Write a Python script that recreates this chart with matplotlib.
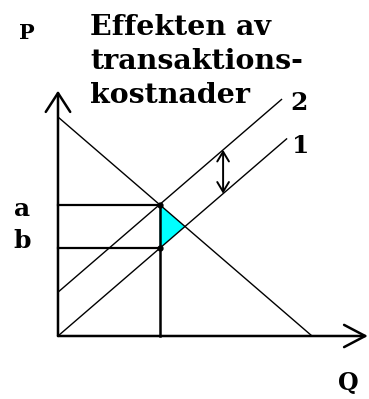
import matplotlib
matplotlib.use('Agg')
import matplotlib.pyplot as plt
from matplotlib.patches import Polygon

# efterfrågan och utbud (1 = utan, 2 = med transaktionskostnader)
demand_q = [0, 10]
demand_p = [10, 0]
supply1_q = [0, 9]
supply1_p = [0, 9]
supply2_q = [0, 8.8]
supply2_p = [2, 10.8]

# jämvikt med kostnader: kvantitet, pris a och pris b
eq_q = 4
price_a = 6
price_b = 4
# jämvikt utan kostnader
eq1_q = 5
eq1_p = 5
# kostnadspil mellan kurvorna
cost_q = 6.5
cost_p = [6.5, 8.5]

axis_q_max = 12.2
axis_p_max = 11.2

title_lines = ['Effekten av', 'transaktions-', 'kostnader']

fig = plt.figure(figsize=(3.69, 3.99), dpi=100)
ax = fig.add_axes([0, 0, 1, 1])
ax.set_xlim(-2.283, 12.244)
ax.set_ylim(-2.877, 15.342)
ax.axis('off')

serif = 'DejaVu Serif'

# axlar med öppna pilar
ax.annotate('', xy=(0, axis_p_max), xytext=(0, 0),
            arrowprops=dict(arrowstyle='->,head_length=0.85,head_width=0.55',
                            lw=1.8, color='black', shrinkA=0, shrinkB=0,
                            mutation_scale=16))
ax.annotate('', xy=(axis_q_max, 0), xytext=(0, 0),
            arrowprops=dict(arrowstyle='->,head_length=0.95,head_width=0.5',
                            lw=1.8, color='black', shrinkA=0, shrinkB=0,
                            mutation_scale=16))

# kurvorna
ax.plot(demand_q, demand_p, color='black', lw=1.0)
ax.plot(supply1_q, supply1_p, color='black', lw=1.0)
ax.plot(supply2_q, supply2_p, color='black', lw=1.0)

# välfärdsförlust
tri = Polygon([(eq_q, price_a), (eq_q, price_b), (eq1_q, eq1_p)],
              closed=True, facecolor='#00ffff', edgecolor='none', zorder=1)
ax.add_patch(tri)

# hjälplinjer
ax.plot([0, eq_q], [price_a, price_a], color='black', lw=1.6)
ax.plot([0, eq_q], [price_b, price_b], color='black', lw=1.6)
ax.plot([eq_q, eq_q], [0, price_a], color='black', lw=1.8)
ax.plot([eq_q, eq_q], [price_a, price_b], 'o', color='black', ms=3.5)

# dubbelpil för transaktionskostnaden
ax.annotate('', xy=(cost_q, cost_p[0]), xytext=(cost_q, cost_p[1]),
            arrowprops=dict(arrowstyle='<->,head_length=0.5,head_width=0.3',
                            lw=1.4, color='black', shrinkA=0, shrinkB=0,
                            mutation_scale=14))

# texter
ax.text(0.073, 0.917, 'P', transform=ax.transAxes, fontsize=15,
        fontweight='bold', family=serif, ha='center', va='center')
ax.text(0.060, 0.476, 'a', transform=ax.transAxes, fontsize=18,
        fontweight='bold', family=serif, ha='center', va='center')
ax.text(0.060, 0.396, 'b', transform=ax.transAxes, fontsize=18,
        fontweight='bold', family=serif, ha='center', va='center')
ax.text(0.943, 0.040, 'Q', transform=ax.transAxes, fontsize=17,
        fontweight='bold', family=serif, ha='center', va='center')
ax.text(0.810, 0.742, '2', transform=ax.transAxes, fontsize=18,
        fontweight='bold', family=serif, ha='center', va='center')
ax.text(0.816, 0.634, '1', transform=ax.transAxes, fontsize=18,
        fontweight='bold', family=serif, ha='center', va='center')

# rubriken, en rad i taget
title_y = [0.965, 0.880, 0.795]
for line, y in zip(title_lines, title_y):
    ax.text(0.244, y, line, transform=ax.transAxes, fontsize=20.5,
            fontweight='bold', family=serif, ha='left', va='top')

fig.savefig('out.png', dpi=100)
